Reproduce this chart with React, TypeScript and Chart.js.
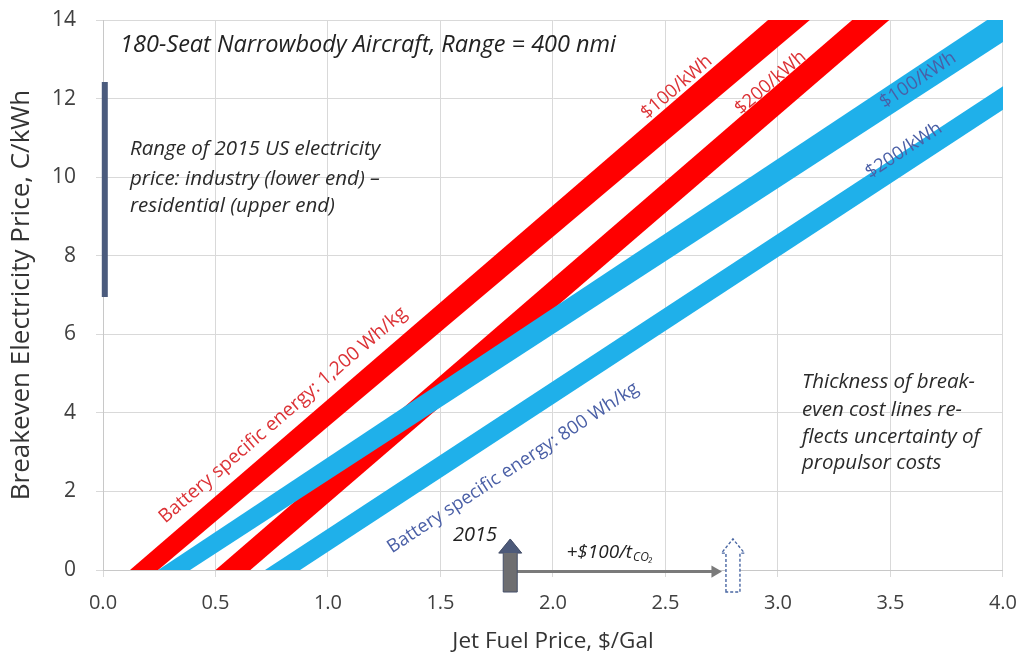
import React, { useEffect, useRef } from 'react';
import { Chart, registerables } from 'chart.js';

Chart.register(...registerables);

// ---- Data ----
// Axis ticks
const xTickValues = [0, 0.5, 1.0, 1.5, 2.0, 2.5, 3.0, 3.5, 4.0];
const yTickValues = [0, 2, 4, 6, 8, 10, 12, 14];

// Break-even bands: jet fuel price ($/gal) at which each edge of a band reaches
// 0 and 14 C/kWh.
const bandNames = [
  '1,200 Wh/kg, $100/kWh',
  '1,200 Wh/kg, $200/kWh',
  '800 Wh/kg, $100/kWh',
  '800 Wh/kg, $200/kWh',
];
const bandColors = ['#ff0000', '#ff0000', '#1fb0ea', '#1fb0ea'];
const bandEdgeAY = [0, 14];
const bandEdgeA_x0 = [0.12, 0.5, 0.245, 0.72];
const bandEdgeA_x14 = [2.956, 3.33, 3.93, 4.45];
const bandEdgeB_x0 = [0.245, 0.655, 0.387, 0.876];
const bandEdgeB_x14 = [3.142, 3.495, 4.15, 4.61];
const bandDrawOrder = [3, 2, 1, 0];

// Range of 2015 US electricity price (C/kWh), drawn at x ~ 0
const usElecX = 0.008;
const usElecRange = [6.95, 12.42];

// 2015 jet fuel price and +$100/t CO2 price
const fuel2015 = 1.81;
const fuelWithCO2 = 2.80;
const arrowStartX = 1.84;
const arrowEndX = 2.72;
const arrowY = -0.04;

// Text annotations
const titleText = '180-Seat Narrowbody Aircraft, Range = 400 nmi';
const rangeNote = [
  'Range of 2015 US electricity',
  'price: industry (lower end) \u2013',
  'residential (upper end)',
];
const thicknessNote = [
  'Thickness of break-',
  'even cost lines re-',
  'flects uncertainty of',
  'propulsor costs',
];
const bandLabels = [
  { text: 'Battery specific energy: 1,200 Wh/kg', band: 0, x: 0.80, y: 3.94, color: '#dc3236', size: 19 },
  { text: 'Battery specific energy: 800 Wh/kg', band: 3, x: 1.822, y: 2.6, color: '#4a5fa6', size: 18.5 },
  { text: '$100/kWh', band: 0, x: 2.55, y: 12.29, color: '#dc3236', size: 18.5 },
  { text: '$200/kWh', band: 1, x: 2.967, y: 12.4, color: '#dc3236', size: 18.5 },
  { text: '$100/kWh', band: 2, x: 3.622, y: 12.47, color: '#4a5fa6', size: 18.5 },
  { text: '$200/kWh', band: 3, x: 3.56, y: 10.68, color: '#4a5fa6', size: 18.5 },
];

const FONT = '"Open Sans", "DejaVu Sans", sans-serif';

const annotationsPlugin = {
  id: 'annotations',
  afterDatasetsDraw(chart: any) {
    const { ctx } = chart;
    const xs = chart.scales.x;
    const ys = chart.scales.y;
    const px = (v: number) => xs.getPixelForValue(v);
    const py = (v: number) => ys.getPixelForValue(v);
    const ux = px(1) - px(0);
    ctx.save();

    // ---- up arrows (2015 and with CO2 price) ----
    const drawUpArrow = (cx: number, solid: boolean) => {
      const shaftHalf = 7 / ux;
      const headHalf = 11.5 / ux;
      const tipY = 0.79;
      const baseY = 0.43;
      const botY = -0.56;
      const pts = [
        [cx - shaftHalf, botY],
        [cx - shaftHalf, baseY],
        [cx - headHalf, baseY],
        [cx, tipY],
        [cx + headHalf, baseY],
        [cx + shaftHalf, baseY],
        [cx + shaftHalf, botY],
      ];
      const path = () => {
        ctx.beginPath();
        pts.forEach(([a, b], i) => (i === 0 ? ctx.moveTo(px(a), py(b)) : ctx.lineTo(px(a), py(b))));
        ctx.closePath();
      };
      path();
      if (solid) {
        ctx.fillStyle = '#6e6e70';
        ctx.fill();
        ctx.beginPath();
        ctx.moveTo(px(cx - headHalf), py(baseY));
        ctx.lineTo(px(cx), py(tipY));
        ctx.lineTo(px(cx + headHalf), py(baseY));
        ctx.closePath();
        ctx.fillStyle = '#4d5a7a';
        ctx.fill();
        path();
        ctx.strokeStyle = '#454f6a';
        ctx.lineWidth = 1;
        ctx.stroke();
      } else {
        ctx.fillStyle = '#ffffff';
        ctx.fill();
        ctx.setLineDash([3, 2]);
        ctx.strokeStyle = '#4a67a3';
        ctx.lineWidth = 1.4;
        ctx.stroke();
        ctx.setLineDash([]);
      }
    };
    drawUpArrow(fuel2015, true);
    drawUpArrow(fuelWithCO2, false);

    // ---- text notes ----
    ctx.textBaseline = 'middle';
    ctx.textAlign = 'left';
    ctx.fillStyle = '#222222';
    ctx.font = `italic 23.5px ${FONT}`;
    ctx.fillText(titleText, px(0.076), py(13.36));

    ctx.font = `italic 20.5px ${FONT}`;
    ctx.fillStyle = '#2a2a2a';
    const rangeY = [10.7, 9.95, 9.27];
    rangeNote.forEach((t, i) => ctx.fillText(t, px(0.12), py(rangeY[i])));
    const thickY = [4.78, 4.07, 3.39, 2.72];
    thicknessNote.forEach((t, i) => ctx.fillText(t, px(3.107), py(thickY[i])));

    // 2015 label
    ctx.font = `italic 20px ${FONT}`;
    ctx.textAlign = 'right';
    ctx.fillStyle = '#222222';
    ctx.fillText('2015', px(1.751), py(0.89));

    // +$100/tCO2 label
    ctx.textAlign = 'left';
    ctx.font = `italic 19px ${FONT}`;
    const main = '+$100/t';
    const mx = px(2.06);
    const my = py(0.44);
    ctx.fillText(main, mx, my);
    const w = ctx.measureText(main).width;
    ctx.font = `italic 12px ${FONT}`;
    ctx.fillText('CO\u2082', mx + w + 1, my + 5);

    // ---- rotated band labels ----
    for (const lab of bandLabels) {
      const b = lab.band;
      const ang = Math.atan2(
        py(bandEdgeAY[1]) - py(bandEdgeAY[0]),
        px(bandEdgeA_x14[b]) - px(bandEdgeA_x0[b])
      );
      ctx.save();
      ctx.translate(px(lab.x), py(lab.y));
      ctx.rotate(ang);
      ctx.font = `${lab.size}px ${FONT}`;
      ctx.fillStyle = lab.color;
      ctx.textAlign = 'center';
      ctx.textBaseline = 'middle';
      ctx.fillText(lab.text, 0, 0);
      ctx.restore();
    }
    ctx.restore();
  },
};

export default function App() {
  const canvasRef = useRef<HTMLCanvasElement | null>(null);

  useEffect(() => {
    document.body.style.margin = '0';
    const canvas = canvasRef.current;
    if (!canvas) return;

    const bandDatasets = bandNames.map((name, i) => ({
      type: 'line' as const,
      label: name,
      data: [
        { x: bandEdgeA_x0[i], y: bandEdgeAY[0] },
        { x: bandEdgeA_x14[i], y: bandEdgeAY[1] },
        { x: bandEdgeB_x14[i], y: bandEdgeAY[1] },
        { x: bandEdgeB_x0[i], y: bandEdgeAY[0] },
      ],
      backgroundColor: bandColors[i],
      borderColor: bandColors[i],
      borderWidth: 0,
      pointRadius: 0,
      tension: 0,
      fill: 'shape',
      order: bandDrawOrder[i],
    }));

    const chart = new Chart(canvas, {
      type: 'line',
      data: {
        datasets: [
          ...bandDatasets,
          {
            type: 'line',
            label: 'Range of 2015 US electricity price',
            data: usElecRange.map((v) => ({ x: usElecX, y: v })),
            borderColor: '#4b5b7d',
            borderWidth: 6,
            borderCapStyle: 'butt',
            pointRadius: 0,
            fill: false,
            clip: false,
            order: -1,
          },
          {
            type: 'line',
            label: '+$100/t CO2',
            data: [
              { x: arrowStartX, y: arrowY },
              { x: arrowEndX, y: arrowY },
            ],
            borderColor: '#7a7a7a',
            borderWidth: 3,
            pointRadius: [0, 7],
            pointStyle: 'triangle',
            rotation: 90,
            pointBackgroundColor: '#7a7a7a',
            pointBorderColor: '#7a7a7a',
            pointBorderWidth: 0,
            fill: false,
            clip: false,
            order: -2,
          },
        ] as any,
      },
      options: {
        animation: false,
        responsive: false,
        devicePixelRatio: 1,
        layout: { padding: { top: 20, right: 28, left: 0, bottom: 0 } },
        plugins: {
          legend: { display: false },
          tooltip: { enabled: false },
        },
        scales: {
          x: {
            type: 'linear',
            min: 0,
            max: 4,
            afterBuildTicks: (s: any) => {
              s.ticks = xTickValues.map((v) => ({ value: v }));
            },
            afterFit: (s: any) => {
              s.height = 90;
            },
            ticks: {
              callback: (v: any) => Number(v).toFixed(1),
              font: { family: FONT, size: 20 },
              color: '#404040',
              padding: 14,
              maxRotation: 0,
            },
            grid: { color: '#d9d9d9', tickLength: 7, lineWidth: 1 },
            border: { color: '#c8c8c8' },
            title: {
              display: true,
              text: 'Jet Fuel Price, $/Gal',
              font: { family: FONT, size: 22.5 },
              color: '#333333',
              padding: { top: 4, bottom: 5 },
            },
          },
          y: {
            type: 'linear',
            min: 0,
            max: 14,
            afterBuildTicks: (s: any) => {
              s.ticks = yTickValues.map((v) => ({ value: v }));
            },
            afterFit: (s: any) => {
              s.width = 103;
              s.paddingTop = 0;
              s.paddingBottom = 0;
            },
            ticks: {
              font: { family: FONT, size: 21 },
              color: '#404040',
              padding: 20,
            },
            grid: { color: '#d9d9d9', tickLength: 7, lineWidth: 1 },
            border: { color: '#c8c8c8' },
            title: {
              display: true,
              text: 'Breakeven Electricity Price, C/kWh',
              font: { family: FONT, size: 26 },
              color: '#333333',
              padding: { top: 6, bottom: 4 },
            },
          },
        },
      } as any,
      plugins: [annotationsPlugin],
    });

    return () => chart.destroy();
  }, []);

  return (
    <div style={{ width: 1031, height: 660 }}>
      <canvas ref={canvasRef} width={1031} height={660} style={{ display: 'block' }} />
    </div>
  );
}
